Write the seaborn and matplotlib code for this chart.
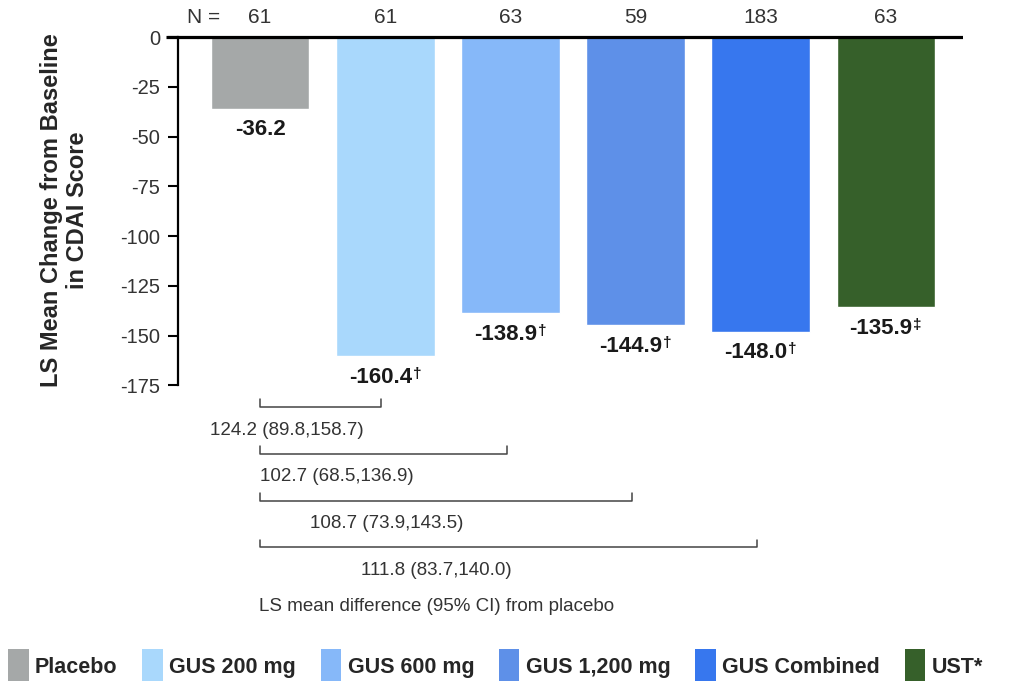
import matplotlib
matplotlib.use("Agg")
import matplotlib.pyplot as plt
import seaborn as sns
import pandas as pd
from matplotlib.patches import Patch
from matplotlib.transforms import offset_copy

# Treatment groups and results
groups = ["Placebo", "GUS 200 mg", "GUS 600 mg", "GUS 1,200 mg", "GUS Combined", "UST*"]
n_values = [61, 61, 63, 59, 183, 63]
ls_mean_change = [-36.2, -160.4, -138.9, -144.9, -148.0, -135.9]
significance_marks = ["", "\u2020", "\u2020", "\u2020", "\u2020", "\u2021"]
colors = ["#A5A8A8", "#A9D8FC", "#86B8F9", "#5E90E8", "#3777EE", "#36602A"]

# LS mean difference vs placebo (95% CI) for GUS arms
diff_labels = [
    "124.2 (89.8,158.7)",
    "102.7 (68.5,136.9)",
    "108.7 (73.9,143.5)",
    "111.8 (83.7,140.0)",
]
y_ticks = [0, -25, -50, -75, -100, -125, -150, -175]

sns.set_style("white")
plt.rcParams["font.family"] = ["Liberation Sans", "DejaVu Sans"]
plt.rcParams["axes.unicode_minus"] = False

text_grey = "#333333"

fig = plt.figure(figsize=(10.10, 6.81), dpi=100)
ax = fig.add_axes([166 / 1010, 41 / 681, 797 / 1010, 640 / 681])

df = pd.DataFrame({"group": groups, "change": ls_mean_change})
sns.barplot(data=df, x="group", y="change", hue="group", palette=colors,
            saturation=1, width=0.79, legend=False, ax=ax, zorder=2)

ax.set_xlim(-0.751, 5.615)
ax.set_ylim(-303, 18.6)

# Zero baseline
ax.axhline(0, color="black", lw=2.3, zorder=5, solid_capstyle="butt")

for side in ["top", "right", "bottom"]:
    ax.spines[side].set_visible(False)
ax.spines["left"].set_position(("data", -0.655))
ax.spines["left"].set_bounds(-175, 0)
ax.spines["left"].set_linewidth(1.6)
ax.spines["left"].set_color("black")

ax.set_yticks(y_ticks)
ax.set_yticklabels([str(t) for t in y_ticks])
ax.tick_params(axis="y", direction="out", length=7, width=1.5, color="black",
               labelsize=14.5, labelcolor=text_grey, pad=6, left=True)
ax.set_xticks([])
ax.set_xlabel("")
ax.set_ylabel("LS Mean Change from Baseline\nin CDAI Score", fontsize=17,
              fontweight="bold", linespacing=1.15)
ax.yaxis.set_label_coords(-0.0966, 0.672)

# Sample sizes above bars
ax.text(-0.45, 10, "N =", ha="center", va="center", fontsize=15, color=text_grey)
for i, n in enumerate(n_values):
    ax.text(i, 10, str(n), ha="center", va="center", fontsize=15, color=text_grey)

# Value labels under bar ends, with superscript significance marks
for i, (v, mark) in enumerate(zip(ls_mean_change, significance_marks)):
    shift = -3.5 if mark else 0
    trans = offset_copy(ax.transData, fig=fig, x=shift, y=0, units="points")
    t = ax.text(i, v - 10.5, f"{v:.1f}", ha="center", va="center", fontsize=16,
                fontweight="bold", color="#1a1a1a", transform=trans)
    if mark:
        ax.annotate(mark, xy=(1.0, 1.0), xycoords=t, xytext=(0.5, 0),
                    textcoords="offset points", ha="left", va="top",
                    fontsize=11, fontweight="bold", color="#1a1a1a")

# Brackets comparing each GUS arm with placebo
bracket_top = -186
bracket_step = -23.5
for k, label in enumerate(diff_labels, start=1):
    yb = bracket_top + bracket_step * (k - 1)
    ax.plot([0, 0, k - 0.03, k - 0.03], [yb + 4, yb, yb, yb + 4],
            color="#444444", lw=1.1, clip_on=False)
    ax.text(0.21 + 0.4 * (k - 1), yb - 11.5, label, ha="center", va="center",
            fontsize=13.5, color=text_grey)

ax.text(1.41, -286, "LS mean difference (95% CI) from placebo", ha="center",
        va="center", fontsize=13.5, color=text_grey)

handles = [Patch(facecolor=c, edgecolor="none") for c in colors]
fig.legend(handles, groups, loc="lower left", bbox_to_anchor=(0.008, -0.002),
           ncol=6, frameon=False, handlelength=0.95, handleheight=2.0,
           handletextpad=0.3, columnspacing=1.15, borderpad=0.0,
           borderaxespad=0.0, prop={"weight": "bold", "size": 15.5})

fig.savefig("out.png", dpi=100)
